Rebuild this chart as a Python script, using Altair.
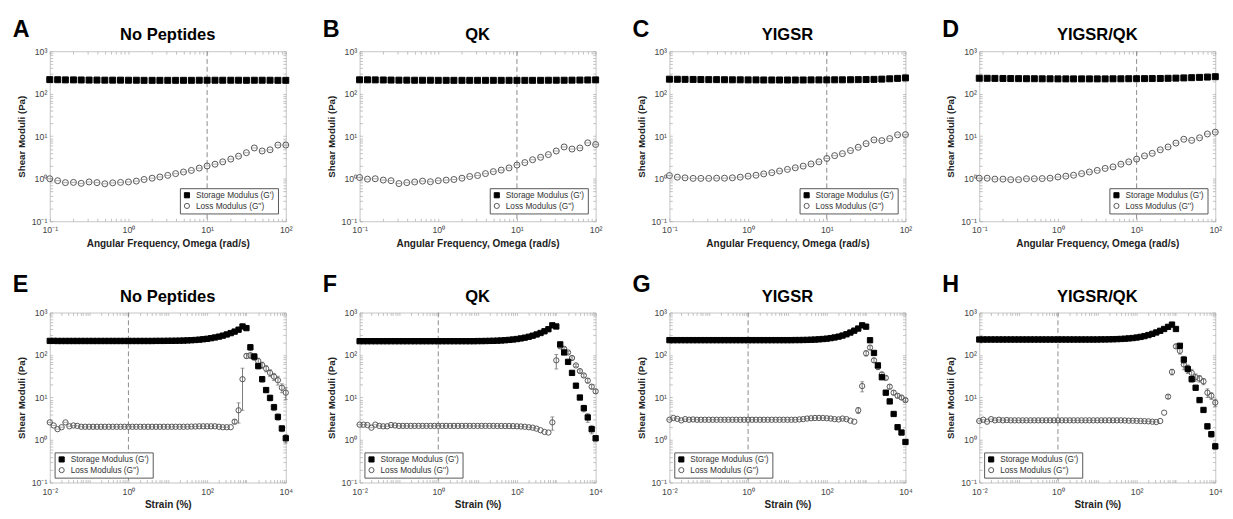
import altair as alt
import pandas as pd

FONT = "Liberation Sans"
STOR = "Storage Modulus (G')"
LOSS = "Loss Modulus (G'')"

titles = ["No Peptides", "QK", "YIGSR", "YIGSR/QK"]
letters_top = ["A", "B", "C", "D"]
letters_bottom = ["E", "F", "G", "H"]

# ---- frequency sweep (rad/s) ----
freq = [0.1, 0.126, 0.158, 0.2, 0.251, 0.316, 0.398, 0.501, 0.631, 0.794,
        1, 1.26, 1.58, 2, 2.51, 3.16, 3.98, 5.01, 6.31, 7.94,
        10, 12.6, 15.8, 20, 25.1, 31.6, 39.8, 50.1, 63.1, 79.4, 100]

A_gp = [215, 214, 212, 212, 211, 210, 210, 209, 209, 209, 208, 208, 207, 207, 207, 207,
        207, 207, 207, 208, 208, 208, 208, 208, 208, 207, 208, 208, 208, 207, 207]
A_gpp = [1.0, 0.9, 0.81, 0.82, 0.78, 0.84, 0.81, 0.76, 0.8, 0.82, 0.84, 0.88, 0.96, 1.03, 1.1,
         1.2, 1.32, 1.44, 1.57, 1.78, 2.0, 2.2, 2.5, 2.9, 3.4, 4.1, 5.3, 4.5, 4.8, 6.2, 6.2]

B_gp = [213, 213, 212, 211, 210, 209, 209, 208, 208, 208, 207, 207, 207, 207, 207, 207,
        207, 207, 207, 207, 207, 207, 207, 207, 208, 208, 208, 209, 210, 211, 212]
B_gpp = [1.07, 0.98, 1.0, 0.93, 0.9, 0.77, 0.81, 0.84, 0.88, 0.85, 0.9, 0.93, 0.96, 1.03, 1.13,
         1.19, 1.32, 1.47, 1.6, 1.8, 2.1, 2.4, 2.8, 3.2, 3.7, 4.5, 5.6, 5.0, 5.3, 7.0, 6.4]

C_gp = [220, 219, 218, 217, 216, 215, 215, 214, 213, 213, 212, 212, 211, 211, 211, 211,
        211, 211, 212, 212, 212, 213, 213, 214, 215, 216, 218, 221, 225, 230, 236]
C_gpp = [1.19, 1.09, 1.05, 1.02, 1.02, 1.02, 1.03, 1.03, 1.05, 1.09, 1.15, 1.21, 1.3, 1.39, 1.52,
         1.66, 1.81, 1.98, 2.23, 2.5, 3.0, 3.5, 3.9, 4.6, 5.5, 6.7, 8.2, 7.9, 8.8, 10.8, 10.9]

D_gp = [232, 231, 230, 229, 228, 227, 226, 226, 225, 225, 224, 224, 224, 224, 224, 224,
        224, 225, 225, 226, 226, 227, 228, 229, 231, 233, 236, 239, 243, 247, 252]
D_gpp = [1.03, 1.03, 0.98, 0.98, 0.95, 0.95, 1.0, 1.0, 1.01, 1.03, 1.1, 1.15, 1.21, 1.32, 1.44,
         1.57, 1.75, 1.9, 2.2, 2.5, 2.9, 3.45, 3.96, 4.8, 5.6, 6.9, 8.5, 8.0, 9.2, 11.3, 12.5]

# ---- strain sweep (%) ----
strain = [0.01, 0.0126, 0.0158, 0.02, 0.0251, 0.0316, 0.0398, 0.0501, 0.0631, 0.0794,
          0.1, 0.126, 0.158, 0.2, 0.251, 0.316, 0.398, 0.501, 0.631, 0.794,
          1, 1.26, 1.58, 2, 2.51, 3.16, 3.98, 5.01, 6.31, 7.94,
          10, 12.6, 15.8, 20, 25.1, 31.6, 39.8, 50.1, 63.1, 79.4,
          100, 126, 158, 200, 251, 316, 398, 501, 631, 794,
          1000, 1259, 1585, 1995, 2512, 3162, 3981, 5012, 6310, 7943, 10000]

E_gp = [215, 215, 214, 214, 214, 214, 214, 214, 214, 214,
        214, 214, 214, 214, 214, 214, 214, 214, 214, 214,
        214, 214, 214, 214, 214, 214, 214, 215, 215, 215,
        216, 216, 217, 218, 219, 221, 223, 226, 230, 235,
        241, 249, 259, 271, 286, 305, 328, 356, 395, 470,
        430, 152, 92, 55, 27, 15, 9.8, 5.9, 3.5, 1.87, 1.1]
E_gpp = [2.6, 2.2, 1.8, 2.0, 2.6, 2.1, 2.2, 2.15, 2.05, 2.05,
         2.05, 2.05, 2.05, 2.05, 2.05, 2.05, 2.05, 2.05, 2.05, 2.05,
         2.05, 2.05, 2.05, 2.05, 2.05, 2.05, 2.05, 2.05, 2.05, 2.05,
         2.05, 2.05, 2.05, 2.05, 2.05, 2.06, 2.07, 2.08, 2.1, 2.1,
         2.1, 2.1, 2.1, 2.05, 2.0, 2.0, 2.0, 2.7, 5.0, 27,
         95, 98, 90, 72, 58, 48, 38, 31, 25.6, 17, 13]

F_gp = [212, 212, 212, 212, 212, 212, 212, 212, 212, 212,
        212, 212, 212, 212, 212, 212, 212, 212, 212, 212,
        212, 212, 212, 212, 212, 212, 212, 212, 212, 212,
        213, 213, 214, 215, 216, 218, 220, 223, 227, 232,
        238, 246, 256, 269, 285, 305, 330, 362, 405, 500,
        470, 178, 115, 69, 38, 19, 10, 5.6, 3.4, 1.8, 1.1]
F_gpp = [2.3, 2.3, 2.25, 1.95, 2.3, 2.15, 2.1, 2.1, 2.25, 2.2,
         2.15, 2.15, 2.15, 2.15, 2.15, 2.15, 2.15, 2.15, 2.15, 2.15,
         2.15, 2.15, 2.15, 2.15, 2.15, 2.15, 2.15, 2.15, 2.15, 2.15,
         2.15, 2.15, 2.15, 2.15, 2.15, 2.14, 2.14, 2.13, 2.13, 2.12,
         2.1, 2.08, 2.05, 2.0, 1.95, 1.85, 1.7, 1.55, 1.5, 2.6,
         75, 160, 140, 115, 85, 57, 42, 33, 25, 18, 14]

G_gp = [224, 224, 224, 224, 224, 224, 224, 224, 224, 224,
        224, 224, 224, 224, 224, 224, 224, 224, 224, 224,
        224, 224, 224, 224, 224, 224, 224, 224, 224, 224,
        224, 224, 225, 225, 226, 227, 229, 231, 234, 238,
        243, 250, 259, 271, 287, 308, 338, 375, 420, 500,
        465, 223, 112, 57, 30, 13, 8.1, 4.1, 2.0, 1.5, 0.9]
G_gpp = [3.0, 3.3, 3.15, 2.9, 3.1, 3.0, 3.05, 3.0, 3.0, 3.0,
         3.0, 3.0, 3.0, 3.0, 3.0, 3.0, 3.0, 3.0, 3.0, 3.0,
         3.0, 3.0, 3.0, 3.0, 3.0, 3.0, 3.0, 3.0, 3.0, 3.0,
         3.0, 3.0, 3.0, 3.05, 3.1, 3.2, 3.25, 3.3, 3.3, 3.3,
         3.25, 3.2, 3.1, 3.05, 3.2, 3.1, 2.85, 2.7, 5.0, 18.6,
         110, 150, 75, 52, 35, 29, 18, 13, 11, 10, 8.7]

H_gp = [232, 232, 232, 232, 232, 232, 232, 232, 232, 232,
        232, 232, 232, 232, 232, 232, 232, 232, 232, 232,
        232, 232, 232, 232, 232, 232, 232, 232, 232, 232,
        232, 233, 233, 234, 235, 237, 239, 242, 246, 251,
        258, 267, 279, 295, 315, 340, 372, 410, 460, 520,
        410, 165, 78, 47, 27, 17, 8.7, 5.1, 2.1, 1.37, 0.71]
H_gpp = [2.8, 3.0, 2.7, 3.1, 2.9, 3.0, 2.9, 2.95, 2.9, 2.9,
         2.9, 2.9, 2.9, 2.9, 2.9, 2.9, 2.9, 2.9, 2.9, 2.9,
         2.9, 2.9, 2.9, 2.9, 2.9, 2.9, 2.9, 2.9, 2.9, 2.9,
         2.9, 2.9, 2.9, 2.9, 2.9, 2.9, 2.9, 2.88, 2.85, 2.85,
         2.82, 2.8, 2.78, 2.75, 2.7, 2.65, 2.8, 4.4, 10.5, 40,
         160, 125, 60, 48, 38, 30, 28, 24, 13, 11, 7.6]

# standard deviations for the last 15 strain points (index 46..60)
err_index = [46, 47, 48, 49, 50, 51, 52, 53, 54, 55, 56, 57, 58, 59, 60]
E_gp_sd = [0, 0, 0, 0, 0, 25, 15, 8, 4, 2, 1.5, 1.0, 0.6, 0.3, 0.25]
E_gpp_sd = [0, 0.3, 2.5, 22, 12, 15, 15, 12, 10, 8, 7, 6, 6, 4, 4]
F_gp_sd = [0, 0, 0, 0, 0, 10, 8, 5, 3, 2, 1, 1, 0.8, 0.4, 0.15]
F_gpp_sd = [0, 0, 0, 0.9, 28, 12, 10, 8, 6, 4, 3, 3, 3, 2, 1.5]
G_gp_sd = [0, 0, 0, 0, 0, 25, 8, 4, 2, 1, 0.5, 0.4, 0.2, 0.15, 0.1]
G_gpp_sd = [0, 0, 0.8, 5, 15, 15, 8, 5, 4, 3, 2, 1.5, 1.2, 1.0, 0.8]
H_gp_sd = [0, 0, 0, 0, 0, 10, 15, 10, 4, 2, 1, 0.5, 0.3, 0.2, 0.1]
H_gpp_sd = [0, 0, 1.0, 6, 15, 20, 15, 10, 8, 6, 5, 4, 3, 2, 1.5]

vline_top = [10]
vline_bottom = [1]

SUP = ("datum.value < 0.05 ? '10\u207b\u00b2' : datum.value < 0.5 ? '10\u207b\u00b9' : "
       "datum.value < 5 ? '10\u2070' : datum.value < 50 ? '10\u00b9' : "
       "datum.value < 500 ? '10\u00b2' : datum.value < 5000 ? '10\u00b3' : '10\u2074'")

Y_DEC = [0.1, 1, 10, 100, 1000]
FREQ_DEC = [0.1, 1, 10, 100]
STRAIN_LAB = [0.01, 1, 100, 10000]
STRAIN_DEC = [0.01, 0.1, 1, 10, 100, 1000, 10000]

W, H = 243, 175


def minor(decades):
    out = []
    for d in decades[:-1]:
        out += [d * k for k in range(1, 10)]
    out.append(decades[-1])
    return out


def tick_axis(orient, vals):
    return alt.Axis(orient=orient, values=vals, labels=False, domain=False, grid=False,
                    ticks=True, tickSize=3, tickColor="#a8a8a8", tickWidth=0.7, offset=-3,
                    title=None)


def make_panel(xv, gp, gpp, gp_sd, gpp_sd, xlab, xdec, vx, letter, title, xtitle, top):
    n = len(xv)
    df = pd.DataFrame({"x": list(xv) * 2, "y": list(gpp) + list(gp),
                       "series": [LOSS] * n + [STOR] * n})
    xs = alt.Scale(type="log", domain=[xdec[0], xdec[-1]], nice=False)
    ys = alt.Scale(type="log", domain=[0.1, 1000], nice=False)
    xmin = minor(xdec)
    ymin = minor(Y_DEC)
    msize = 38 if top else 30

    leg = alt.Legend(title=None, orient="bottom-right" if top else "bottom-left",
                     offset=8 if top else 5, padding=3, rowPadding=1, symbolSize=28,
                     labelFontSize=8.5, labelColor="#333", labelFont=FONT, labelOffset=5,
                     strokeColor="#555", fillColor="white", symbolStrokeWidth=1,
                     cornerRadius=0)
    sdom = [STOR, LOSS]

    x_lab = alt.Axis(orient="bottom", values=xlab, labelExpr=SUP, tickSize=0, domain=False,
                     grid=False, labelFontSize=9, labelColor="#444", labelFont=FONT,
                     labelPadding=5, labelFlush=False, labelOverlap=False, title=xtitle,
                     titleFontSize=10.3, titleFontWeight="bold", titleColor="#222",
                     titleFont=FONT, titlePadding=4)
    y_lab = alt.Axis(orient="left", values=Y_DEC, labelExpr=SUP, tickSize=0, domain=False,
                     grid=False, labelFontSize=9, labelColor="#444", labelFont=FONT,
                     labelPadding=3, labelFlush=False, labelOverlap=False,
                     title="Shear Moduli (Pa)", titleFontSize=10, titleFontWeight="bold",
                     titleColor="#222", titleFont=FONT, titlePadding=5)

    layers = []
    vline = alt.Chart(pd.DataFrame({"x": [vx]})).mark_rule(
        color="#888", strokeDash=[5, 3], strokeWidth=1).encode(
        x=alt.X("x:Q", scale=xs, axis=None))
    layers.append(vline)

    t1 = alt.Chart(df).mark_point(opacity=0).encode(
        x=alt.X("x:Q", scale=xs, axis=tick_axis("bottom", xmin)),
        y=alt.Y("y:Q", scale=ys, axis=tick_axis("left", ymin)))
    t2 = alt.Chart(df).mark_point(opacity=0).encode(
        x=alt.X("x:Q", scale=xs, axis=tick_axis("top", xmin)),
        y=alt.Y("y:Q", scale=ys, axis=tick_axis("right", ymin)))
    layers += [t1, t2]

    if gp_sd is not None:
        rows = []
        for k, idx in enumerate(err_index):
            for vals, sd in ((gp, gp_sd), (gpp, gpp_sd)):
                if sd[k] > 0:
                    rows.append({"x": xv[idx], "lo": vals[idx] - sd[k], "hi": vals[idx] + sd[k]})
        edf = pd.DataFrame(rows)
        bars = alt.Chart(edf).mark_rule(color="#555", strokeWidth=0.8).encode(
            x=alt.X("x:Q", scale=xs, axis=None),
            y=alt.Y("lo:Q", scale=ys, axis=None), y2="hi:Q")
        caps_df = pd.DataFrame({"x": list(edf["x"]) * 2,
                                "y": list(edf["lo"]) + list(edf["hi"])})
        caps = alt.Chart(caps_df).mark_point(shape="stroke", size=16, color="#555",
                                             strokeWidth=0.8).encode(
            x=alt.X("x:Q", scale=xs, axis=None), y=alt.Y("y:Q", scale=ys, axis=None))
        layers += [bars, caps]

    pts = alt.Chart(df).mark_point(filled=True, size=msize, strokeWidth=1, opacity=1).encode(
        x=alt.X("x:Q", scale=xs, axis=x_lab),
        y=alt.Y("y:Q", scale=ys, axis=y_lab),
        shape=alt.Shape("series:N", scale=alt.Scale(domain=sdom, range=["square", "circle"]),
                        legend=leg),
        fill=alt.Fill("series:N", scale=alt.Scale(domain=sdom, range=["#000000", "transparent"]),
                      legend=leg),
        stroke=alt.Stroke("series:N", scale=alt.Scale(domain=sdom, range=["#000000", "#555555"]),
                          legend=leg),
    )
    layers.append(pts)

    lim = n if top else 46
    odf = pd.DataFrame({"x": list(xv[:lim]), "y": list(gpp[:lim])})
    over = alt.Chart(odf).mark_point(shape="stroke", size=34, color="#666",
                                     strokeWidth=0.8).encode(
        x=alt.X("x:Q", scale=xs, axis=None), y=alt.Y("y:Q", scale=ys, axis=None))
    layers.append(over)

    lt = alt.Chart(pd.DataFrame({"t": [letter]})).mark_text(
        fontSize=24, fontWeight="bold", font=FONT, align="left", baseline="alphabetic",
        color="black").encode(text="t:N", x=alt.value(-38), y=alt.value(-15 if top else -21))
    layers.append(lt)

    tt = alt.Chart(pd.DataFrame({"t": [title]})).mark_text(
        fontSize=17, fontWeight="bold", font=FONT, align="center", baseline="alphabetic",
        color="black").encode(text="t:N", x=alt.value(W / 2), y=alt.value(-12 if top else -11))
    layers.append(tt)

    return alt.layer(*layers).resolve_axis(x="independent", y="independent").properties(
        width=W, height=H)


panels = []
for L, T, gp, gpp in zip(letters_top, titles, [A_gp, B_gp, C_gp, D_gp],
                         [A_gpp, B_gpp, C_gpp, D_gpp]):
    panels.append(make_panel(freq, gp, gpp, None, None, FREQ_DEC, FREQ_DEC, vline_top[0], L, T,
                             "Angular Frequency, Omega (rad/s)", True))

bottom = [(E_gp, E_gpp, E_gp_sd, E_gpp_sd), (F_gp, F_gpp, F_gp_sd, F_gpp_sd),
          (G_gp, G_gpp, G_gp_sd, G_gpp_sd), (H_gp, H_gpp, H_gp_sd, H_gpp_sd)]
for L, T, (gp, gpp, s1, s2) in zip(letters_bottom, titles, bottom):
    panels.append(make_panel(strain, gp, gpp, s1, s2, STRAIN_LAB, STRAIN_DEC, vline_bottom[0],
                             L, T, "Strain (%)", False))

chart = alt.concat(*panels, columns=4, spacing={"row": 94, "column": 76},
                   bounds="flush").resolve_scale(
    shape="independent", fill="independent", stroke="independent",
    x="independent", y="independent").properties(
    padding={"left": 4, "top": 2, "right": 2, "bottom": 0}
).configure(font=FONT).configure_view(stroke="#c4c4c4", strokeWidth=1)

chart.save("out.html", embed_options={"renderer": "svg", "actions": False})
